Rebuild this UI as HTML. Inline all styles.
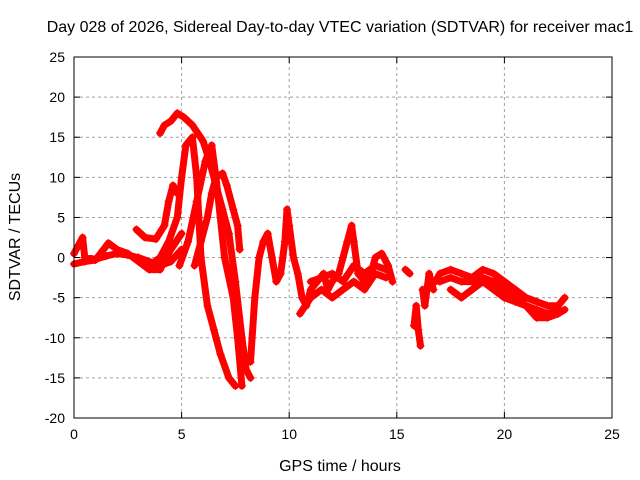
<!DOCTYPE html>
<html><head><meta charset="utf-8"><style>
html,body{margin:0;padding:0;background:#fff;}
svg{display:block;font-family:"Liberation Sans",sans-serif;}
</style></head><body>
<svg id="chart" width="640" height="480" viewBox="0 0 640 480">
<text x="340" y="32" font-size="16" text-anchor="middle">Day 028 of 2026, Sidereal Day-to-day VTEC variation (SDTVAR) for receiver mac1</text>
<text x="340" y="471" font-size="16" text-anchor="middle">GPS time / hours</text>
<text x="20" y="237" font-size="16" text-anchor="middle" transform="rotate(-90 20 237)">SDTVAR / TECUs</text>
<g id="grid"></g>
<g id="ticks"></g>
<g id="series"></g>
<rect x="74" y="57" width="538" height="361" fill="none" stroke="#000" stroke-width="1"/>
</svg>
<script>
const xTicks=[0,5,10,15,20,25];
const yTicks=[-20,-15,-10,-5,0,5,10,15,20,25];
const trackBase=[[0,0.5],[0.2,1.5],[0.4,2.5],[0.5,0],[1,-0.2],[1.5,0.2],[2,0.5],[2.5,0.3],[3,0],[3.5,-0.5],[4,-1],[4.5,-0.5],[5,1]];
const trackBase2=[[0,-0.8],[0.5,-0.5],[1,-0.3],[1.6,1.8],[2,1],[2.5,0.5],[3,-0.5],[3.5,-1.5],[4,-1.5],[4.5,1],[5,3]];
const trackRise=[[2.9,3.5],[3.3,2.5],[3.8,2.3],[4.2,4],[4.4,7],[4.6,9],[4.8,8]];
const trackPeak=[[4.0,15.5],[4.2,16.5],[4.5,17],[4.8,18],[5.1,17.5],[5.5,16.5],[6,14.5],[6.3,12],[6.6,9],[6.9,6],[7.2,3],[7.5,-3],[7.8,-10],[8,-14],[8.2,-15]];
const trackA=[[3.5,-1],[4,0],[4.4,2],[4.8,5],[5.0,10],[5.2,14],[5.5,15],[5.7,10],[5.8,5],[5.9,0],[6.2,-6],[6.5,-9],[6.8,-12],[7.2,-15],[7.5,-16]];
const trackB=[[5.6,-1],[5.9,2],[6.2,5],[6.4,8],[6.6,10],[6.9,10.5],[7.1,9],[7.4,6],[7.6,4],[7.7,1]];
const trackC=[[4.9,-1],[5.3,2],[5.7,7],[6.1,12],[6.4,14],[6.6,10],[6.8,5],[7.0,0],[7.4,-5],[7.6,-10],[7.8,-16]];
const trackMid=[[8.2,-13],[8.4,-5],[8.6,0],[8.8,2],[9,3],[9.2,0],[9.4,-3],[9.6,-2],[9.8,2],[9.9,6],[10,4],[10.2,0],[10.4,-2],[10.6,-5],[10.8,-6],[11,-4],[11.3,-3],[11.6,-2],[11.8,-4],[12,-3],[12.3,-2],[12.5,0],[12.7,2],[12.9,4],[13,2],[13.2,-2],[13.5,-3],[13.8,-2],[14,0],[14.3,0.5],[14.6,-1],[14.8,-3]];
const trackMidLow=[[10.5,-7],[11,-5],[11.5,-4],[12,-5],[12.5,-4],[13,-3],[13.5,-4],[14,-2],[14.5,-2.5]];
const trackMid3=[[11,-3],[11.5,-2.5],[12,-2],[12.5,-3],[13,-1],[13.5,-2],[14,-1],[14.5,-1.5]];
const trackGap=[[15.4,-1.5],[15.6,-2]];
const trackDip=[[15.8,-8.5],[15.9,-6],[16.0,-9],[16.1,-11]];
const trackDip2=[[16.2,-4],[16.3,-6],[16.5,-2],[16.7,-4]];
const trackLate=[[16.8,-3],[17,-2],[17.5,-1.5],[18,-2],[18.5,-2.5],[19,-1.5],[19.5,-2],[20,-3],[20.5,-4],[21,-5],[21.5,-5.5],[22,-6],[22.5,-6],[22.8,-5]];
const trackLateLow=[[17.5,-4],[18,-5],[18.5,-4],[19,-3],[19.5,-4],[20,-5],[20.5,-5.5],[21,-6],[21.5,-7.5],[22,-7.5],[22.5,-7],[22.8,-6.5]];
const trackLateMid=[[17,-3],[17.5,-2.5],[18,-3],[18.5,-3],[19,-2.5],[19.5,-3],[20,-4],[21,-6],[21.5,-6.5],[22,-7],[22.5,-6.5]];
const tracks=[trackBase,trackBase2,trackRise,trackPeak,trackA,trackB,trackC,trackMid,trackMidLow,trackMid3,trackGap,trackDip,trackDip2,trackLate,trackLateLow,trackLateMid];

const X0=74,X1=612,Y0=418,Y1=57;
function xs(v){return X0+(v-0)/(25-0)*(X1-X0);}
function ys(v){return Y0-(v+20)/(45)*(Y0-Y1);}
const NS='http://www.w3.org/2000/svg';
const grid=document.getElementById('grid'),ticks=document.getElementById('ticks'),ser=document.getElementById('series');
function mk(t,a,p){const e=document.createElementNS(NS,t);for(const k in a)e.setAttribute(k,a[k]);p.appendChild(e);return e;}
xTicks.forEach(t=>{
  const x=xs(t);
  if(t>0&&t<25){const g=mk('line',{x1:x,x2:x,y1:Y0,y2:Y1,stroke:'#a0a0a0','stroke-dasharray':'3,3'},grid);
  
  }
  mk('line',{x1:x,x2:x,y1:Y0,y2:Y0-6,stroke:'#000'},ticks);
  mk('line',{x1:x,x2:x,y1:Y1,y2:Y1+6,stroke:'#000'},ticks);
  const l=mk('text',{x:x,y:Y0+21,'font-size':14,'text-anchor':'middle'},ticks);l.textContent=t;
  
  
});
yTicks.forEach(t=>{
  const y=ys(t);
  if(t>-20&&t<25){const g=mk('line',{x1:X0,x2:X1,y1:y,y2:y,stroke:'#a0a0a0','stroke-dasharray':'3,3'},grid);
  
  }
  mk('line',{x1:X0,x2:X0+6,y1:y,y2:y,stroke:'#000'},ticks);
  mk('line',{x1:X1,x2:X1-6,y1:y,y2:y,stroke:'#000'},ticks);
  const l=mk('text',{x:X0-9,y:y+5,'font-size':14,'text-anchor':'end'},ticks);l.textContent=t;
  
  
});
tracks.forEach(tr=>{
  const pts=tr.map(p=>xs(p[0]).toFixed(1)+','+ys(p[1]).toFixed(1)).join(' ');
  const pl=mk('polyline',{points:pts,fill:'none',stroke:'#ff0000','stroke-width':7,'stroke-linejoin':'round','stroke-linecap':'round'},ser);
  
  
  tr.forEach(p=>{
    const x=xs(p[0]),y=ys(p[1]);
    const m=mk('path',{d:`M${x-4},${y}H${x+4}M${x},${y-4}V${y+4}`,stroke:'#ff0000','stroke-width':1.2},ser);
    
    
  });
});
</script>
</body></html>
